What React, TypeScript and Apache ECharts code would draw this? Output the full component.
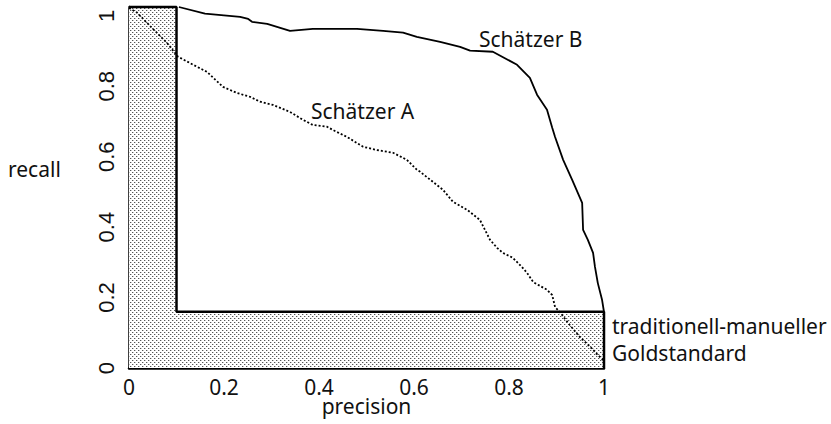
import React, { useEffect, useRef } from "react";
import * as echarts from "echarts";

// Schätzer A (dotted): [precision, recall]
const seriesA: [number, number][] = [
  [0.0, 1.022], [0.017, 1.009], [0.048, 0.966], [0.08, 0.923], [0.103, 0.884],
  [0.135, 0.861], [0.164, 0.841], [0.198, 0.798], [0.227, 0.781], [0.255, 0.77],
  [0.276, 0.756], [0.303, 0.747], [0.339, 0.727], [0.366, 0.705], [0.387, 0.69],
  [0.417, 0.685], [0.429, 0.676], [0.459, 0.656], [0.493, 0.628], [0.522, 0.619],
  [0.556, 0.611], [0.585, 0.591], [0.606, 0.563], [0.613, 0.557], [0.661, 0.506],
  [0.682, 0.472], [0.712, 0.449], [0.739, 0.42], [0.76, 0.364], [0.775, 0.341],
  [0.787, 0.327], [0.808, 0.313], [0.827, 0.287], [0.838, 0.27], [0.851, 0.244],
  [0.88, 0.222], [0.891, 0.207], [0.897, 0.173], [0.907, 0.159], [0.928, 0.122],
  [0.949, 0.088], [0.971, 0.06], [0.987, 0.037], [1.0, 0.02],
];

// Schätzer B (solid)
const seriesB: [number, number][] = [
  [0.105, 1.025], [0.16, 1.006], [0.234, 0.997], [0.251, 0.991], [0.259, 0.983],
  [0.291, 0.977], [0.339, 0.957], [0.387, 0.963], [0.48, 0.963], [0.535, 0.957],
  [0.577, 0.952], [0.606, 0.94], [0.655, 0.926], [0.697, 0.912], [0.718, 0.901],
  [0.766, 0.898], [0.817, 0.861], [0.844, 0.824], [0.859, 0.776], [0.88, 0.733],
  [0.891, 0.682], [0.897, 0.656], [0.914, 0.591], [0.933, 0.534], [0.954, 0.469],
  [0.956, 0.392], [0.966, 0.364], [0.977, 0.327], [0.981, 0.287], [0.987, 0.241],
  [0.996, 0.193], [1.0, 0.159],
];

// traditionell-manueller Goldstandard (shaded L region outline)
const goldPrecision = 0.1;
const goldRecall = 0.16;
const yMax = 1.025;
const goldOutline: [number, number][] = [
  [0, yMax], [goldPrecision, yMax], [goldPrecision, goldRecall], [1, goldRecall], [1, 0],
];

const xTicks = [0, 0.2, 0.4, 0.6, 0.8, 1];
const yTicks = [0, 0.2, 0.4, 0.6, 0.8, 1];

const FONT = "'Noto Sans', 'Open Sans', sans-serif";

function makePattern(): string {
  const c = document.createElement("canvas");
  c.width = 4;
  c.height = 4;
  const ctx = c.getContext("2d")!;
  ctx.fillStyle = "#ffffff";
  ctx.fillRect(0, 0, 4, 4);
  ctx.fillStyle = "#555555";
  ctx.fillRect(0, 0, 1, 1);
  ctx.fillRect(2, 2, 1, 1);
  ctx.fillStyle = "#c8c8c8";
  ctx.fillRect(1, 0, 1, 1);
  ctx.fillRect(3, 2, 1, 1);
  return c.toDataURL();
}

function tickFormatter(ticks: number[]) {
  return (v: number) => {
    const t = ticks.find((k) => Math.abs(k - v) < 1e-6);
    return t === undefined ? "" : String(t);
  };
}

export default function App() {
  const ref = useRef<HTMLDivElement>(null);
  useEffect(() => {
    if (!ref.current) return;
    const chart = echarts.init(ref.current, undefined, { renderer: "svg" });
    const pattern = makePattern();
    chart.setOption({
      animation: false,
      backgroundColor: "#ffffff",
      grid: { left: 129, right: 227, top: 7, bottom: 56, outerBoundsMode: "none", containLabel: false },
      xAxis: {
        type: "value",
        min: 0,
        max: 1,
        interval: 0.2,
        name: "precision",
        nameLocation: "middle",
        nameGap: 27,
        nameMoveOverlap: false,
        nameTextStyle: { fontFamily: FONT, fontSize: 21, lineHeight: 21, color: "#111" },
        axisLine: { show: true, lineStyle: { color: "#000", width: 2.5 } },
        axisTick: { show: false },
        splitLine: { show: false },
        axisLabel: {
          margin: 8,
          fontFamily: FONT,
          fontSize: 21,
          lineHeight: 21,
          color: "#111",
          formatter: tickFormatter(xTicks),
        },
      },
      yAxis: {
        type: "value",
        min: 0,
        max: yMax,
        interval: 0.2,
        axisLine: { show: true, lineStyle: { color: "#000", width: 2.5 } },
        axisTick: { show: false },
        splitLine: { show: false },
        axisLabel: {
          rotate: 90,
          margin: 12,
          fontFamily: "'Liberation Sans', Arial, sans-serif",
          fontSize: 22,
          color: "#111",
          showMaxLabel: false,
          formatter: tickFormatter(yTicks),
        },
      },
      series: [
        {
          type: "line",
          data: goldOutline,
          showSymbol: false,
          clip: false,
          z: 1,
          lineStyle: { color: "#000", width: 2.5 },
          areaStyle: { color: { image: pattern, repeat: "repeat" }, opacity: 1 },
          silent: true,
        },
        {
          type: "line",
          name: "Schätzer A",
          data: seriesA,
          showSymbol: false,
          clip: false,
          z: 3,
          lineStyle: { color: "#000", width: 1.8, type: [2, 2] },
          silent: true,
        },
        {
          type: "line",
          name: "Schätzer B",
          data: seriesB,
          showSymbol: false,
          clip: false,
          z: 3,
          lineStyle: { color: "#000", width: 1.8 },
          silent: true,
        },
      ],
      graphic: [
        { type: "text", left: 8, top: 158, style: { text: "recall", font: `21px ${FONT}`, fill: "#111" } },
        { type: "text", left: 311, top: 100, style: { text: "Schätzer A", font: `21px ${FONT}`, fill: "#111" } },
        { type: "text", left: 479, top: 28, style: { text: "Schätzer B", font: `21px ${FONT}`, fill: "#111" } },
        {
          type: "text",
          left: 612,
          top: 312,
          style: {
            text: "traditionell-manueller\nGoldstandard",
            font: `21px ${FONT}`,
            lineHeight: 27,
            fill: "#111",
          },
        },
      ],
    });
    return () => chart.dispose();
  }, []);
  return (
    <div
      ref={ref}
      style={{ position: "fixed", left: 0, top: 0, width: 831, height: 424 }}
    />
  );
}
